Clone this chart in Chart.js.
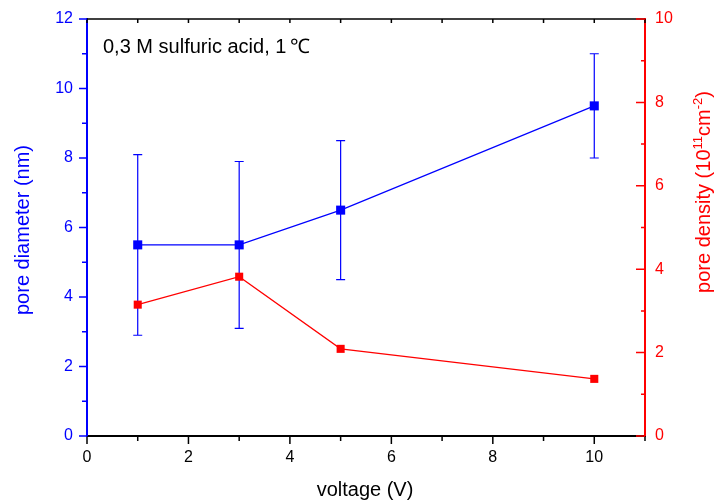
<!DOCTYPE html>
<html>
<head>
<meta charset="utf-8">
<script src="https://cdn.jsdelivr.net/npm/chart.js@4"></script>
<style>
  body { margin: 0; background: #fff; }
</style>
</head>
<body>
<canvas id="c" width="718" height="500"></canvas>
<script>
const voltage = [1, 3, 5, 10]
const poreDiameter = [5.5, 5.5, 6.5, 9.5]
const diameterLow = [2.9, 3.1, 4.5, 8.0]
const diameterHigh = [8.1, 7.9, 8.5, 11.0]
const poreDensity = [3.15, 3.82, 2.09, 1.37]
const xRange = [0, 11]
const diameterRange = [0, 12]
const densityRange = [0, 10]

const FONT = '"Liberation Sans", Arial, sans-serif'

// error bars drawn through the y scale
const errorBars = {
  id: 'errorBars',
  beforeDatasetsDraw (chart) {
    const ctx = chart.ctx
    const xs = chart.scales.x
    const ys = chart.scales.y
    ctx.save()
    ctx.strokeStyle = '#0000ff'
    ctx.lineWidth = 1.2
    voltage.forEach((v, i) => {
      const px = xs.getPixelForValue(v)
      const lo = ys.getPixelForValue(diameterLow[i])
      const hi = ys.getPixelForValue(diameterHigh[i])
      ctx.beginPath()
      ctx.moveTo(px, lo); ctx.lineTo(px, hi)
      ctx.moveTo(px - 4.5, lo); ctx.lineTo(px + 4.5, lo)
      ctx.moveTo(px - 4.5, hi); ctx.lineTo(px + 4.5, hi)
      ctx.stroke()
    })
    ctx.restore()
  }
}

// frame line, tick marks (major at even values, minor at odd), titles and note
const frame = {
  id: 'frame',
  afterDraw (chart) {
    const ctx = chart.ctx
    const a = chart.chartArea
    const xs = chart.scales.x
    const ys = chart.scales.y
    const y2 = chart.scales.y2
    ctx.save()
    ctx.lineWidth = 1.5
    ctx.strokeStyle = '#000'
    ctx.beginPath()
    ctx.moveTo(a.left, a.top); ctx.lineTo(a.right, a.top)
    ctx.stroke()
    ctx.beginPath()
    xs.ticks.forEach(t => {
      const px = xs.getPixelForValue(t.value)
      const len = t.value % 2 === 0 ? 8 : 5
      ctx.moveTo(px, a.bottom); ctx.lineTo(px, a.bottom + len)
      ctx.moveTo(px, a.top); ctx.lineTo(px, a.top + 4)
    })
    ctx.stroke()
    ctx.strokeStyle = '#0000ff'
    ctx.beginPath()
    ys.ticks.forEach(t => {
      const py = ys.getPixelForValue(t.value)
      const len = t.value % 2 === 0 ? 8 : 5
      ctx.moveTo(a.left, py); ctx.lineTo(a.left - len, py)
    })
    ctx.stroke()
    ctx.strokeStyle = '#ff0000'
    ctx.beginPath()
    y2.ticks.forEach(t => {
      const py = y2.getPixelForValue(t.value)
      const len = t.value % 2 === 0 ? 9 : 4
      ctx.moveTo(a.right, py); ctx.lineTo(a.right - len, py)
    })
    ctx.stroke()

    ctx.textBaseline = 'alphabetic'
    ctx.font = '20px ' + FONT
    // note
    ctx.fillStyle = '#000'
    ctx.textAlign = 'left'
    ctx.fillText('0,3 M sulfuric acid, 1\u2009\u2103', a.left + 16, 53)
    // x title
    ctx.textAlign = 'center'
    ctx.fillText('voltage (V)', (a.left + a.right) / 2 - 1, 496)
    // left title
    ctx.save()
    ctx.translate(29, 230)
    ctx.rotate(-Math.PI / 2)
    ctx.fillStyle = '#0000ff'
    ctx.fillText('pore diameter (nm)', 0, 0)
    ctx.restore()
    // right title with superscripts
    const parts = [
      ['pore density (10', 20, 0],
      ['11', 13, -8],
      ['cm', 20, 0],
      ['-2', 13, -8],
      [')', 20, 0]
    ]
    let total = 0
    parts.forEach(p => { ctx.font = p[1] + 'px ' + FONT; total += ctx.measureText(p[0]).width })
    ctx.save()
    ctx.translate(710, 192)
    ctx.rotate(-Math.PI / 2)
    ctx.fillStyle = '#ff0000'
    ctx.textAlign = 'left'
    let cx = -total / 2
    parts.forEach(p => {
      ctx.font = p[1] + 'px ' + FONT
      ctx.fillText(p[0], cx, p[2])
      cx += ctx.measureText(p[0]).width
    })
    ctx.restore()
    ctx.restore()
  }
}

const evenOnly = v => (v % 2 === 0 ? v : '')
const tickFont = { family: FONT, size: 16 }
const noOverhang = s => { s.paddingTop = 0; s.paddingBottom = 0 }

new Chart(document.getElementById('c').getContext('2d'), {
  type: 'line',
  data: {
    datasets: [
      {
        label: 'pore diameter',
        data: voltage.map((v, i) => ({ x: v, y: poreDiameter[i] })),
        yAxisID: 'y',
        borderColor: '#0000ff',
        backgroundColor: '#0000ff',
        borderWidth: 1.2,
        pointStyle: 'rect',
        pointRadius: 6.4,
        pointBorderWidth: 0
      },
      {
        label: 'pore density',
        data: voltage.map((v, i) => ({ x: v, y: poreDensity[i] })),
        yAxisID: 'y2',
        borderColor: '#ff0000',
        backgroundColor: '#ff0000',
        borderWidth: 1.2,
        pointStyle: 'rect',
        pointRadius: 5.7,
        pointBorderWidth: 0
      }
    ]
  },
  options: {
    responsive: false,
    animation: false,
    layout: { padding: { top: 19, left: 0, right: 0, bottom: 0 } },
    scales: {
      x: {
        type: 'linear',
        min: xRange[0],
        max: xRange[1],
        grid: { display: false, drawTicks: false },
        border: { color: '#000', width: 2 },
        ticks: { stepSize: 1, color: '#000', padding: 12, maxRotation: 0, autoSkip: false, font: tickFont, callback: evenOnly },
        afterFit (s) { s.height = 64; s.paddingLeft = 0; s.paddingRight = 0 }
      },
      y: {
        position: 'left',
        min: diameterRange[0],
        max: diameterRange[1],
        grid: { display: false, drawTicks: false },
        border: { color: '#0000ff', width: 2 },
        ticks: { stepSize: 1, color: '#0000ff', padding: 14, autoSkip: false, font: tickFont, callback: evenOnly },
        afterFit (s) { s.width = 87; noOverhang(s) }
      },
      y2: {
        position: 'right',
        min: densityRange[0],
        max: densityRange[1],
        grid: { display: false, drawTicks: false },
        border: { color: '#ff0000', width: 2 },
        ticks: { stepSize: 1, color: '#ff0000', padding: 10, autoSkip: false, font: tickFont, callback: evenOnly },
        afterFit (s) { s.width = 73; noOverhang(s) }
      }
    },
    plugins: {
      legend: { display: false },
      tooltip: { enabled: false }
    }
  },
  plugins: [errorBars, frame]
})
</script>
</body>
</html>
